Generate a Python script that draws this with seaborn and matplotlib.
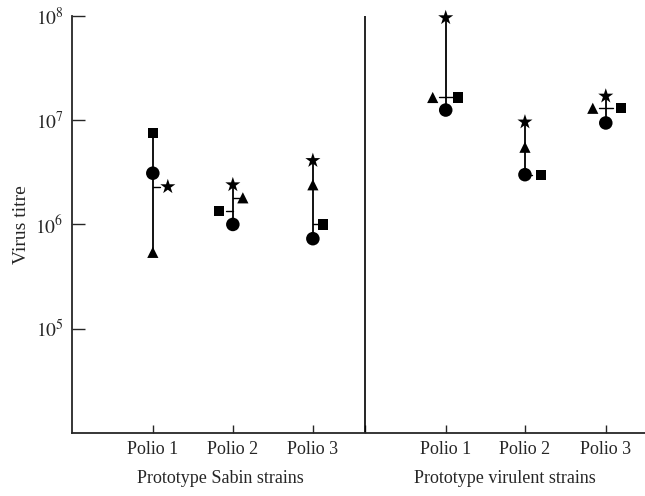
import numpy as np
import pandas as pd
import matplotlib
matplotlib.use("Agg")
import matplotlib.pyplot as plt
import seaborn as sns

# values (virus titre), order: Sabin P1-3, virulent P1-3
strains = ["Polio 1", "Polio 2", "Polio 3"]
groups = ["Prototype Sabin strains", "Prototype virulent strains"]
circle_titre = [3.1e6, 1.0e6, 7.3e5, 1.25e7, 3.0e6, 9.4e6]
square_titre = [7.5e6, 1.35e6, 1.0e6, 1.65e7, 3.0e6, 1.3e7]
triangle_titre = [5.4e5, 1.8e6, 2.4e6, 1.65e7, 5.5e6, 1.3e7]
star_titre = [2.3e6, 2.4e6, 4.1e6, 9.6e7, 9.6e6, 1.7e7]
ytick_values = [1e5, 1e6, 1e7, 1e8]
ytick_labels = ["$10^5$", "$10^6$", "$10^7$", "$10^8$"]

# layout: x position of each strain and the small sideways shifts of markers
base_x = [1.0, 2.0, 3.0, 4.66, 5.65, 6.66]
divider_x = 3.65
px = 1 / 80.0
shift = {
    "circle": [0, 0, 0, 0, 0, 0],
    "square": [0, -14, 10, 12, 16, 15],
    "triangle": [0, 10, 0, -13, 0, -13],
    "star": [15, 0, 0, 0, 0, 0],
}

titres = {"circle": circle_titre, "square": square_titre,
          "triangle": triangle_titre, "star": star_titre}
rows = []
for kind, vals in titres.items():
    for i, v in enumerate(vals):
        rows.append({"kind": kind, "x": base_x[i] + shift[kind][i] * px, "titre": v,
                     "line_x": base_x[i], "dx": shift[kind][i]})
df = pd.DataFrame(rows)

sns.set_style("ticks")
plt.rcParams["font.family"] = ["Liberation Serif", "DejaVu Serif"]
plt.rcParams["mathtext.fontset"] = "stix"

fig = plt.figure(figsize=(6.45, 4.96), dpi=100)
ax = fig.add_axes([0.1116, 0.127, 0.8884, 0.841])

# vertical range lines
for i in range(6):
    vals = [titres[k][i] for k in titres]
    ax.plot([base_x[i], base_x[i]], [min(vals), max(vals)], color="black", lw=1.3,
            zorder=1, clip_on=False)

# little connectors to markers set off to the side
for _, r in df[df["dx"] != 0].iterrows():
    side = np.sign(r["dx"])
    ax.plot([r["line_x"], r["line_x"] + side * 7 * px], [r["titre"], r["titre"]],
            color="black", lw=1.0, zorder=1)

sns.scatterplot(data=df, x="x", y="titre", style="kind", size="kind",
                markers={"circle": "o", "square": "s", "triangle": "^", "star": "*"},
                sizes={"circle": 95, "square": 55, "triangle": 65, "star": 130},
                color="black", linewidth=0, legend=False, ax=ax, zorder=3,
                clip_on=False)

ax.axvline(divider_x, color="black", lw=1.2)

ax.set_yscale("log")
ax.set_ylim(1e4, 1e8)
ax.set_xlim(-0.01, 7.15)
ax.set_yticks(ytick_values)
ax.set_yticklabels(ytick_labels, fontsize=14)
ax.yaxis.set_minor_locator(matplotlib.ticker.NullLocator())
ax.set_xticks(base_x[:3] + [divider_x] + base_x[3:])
ax.set_xticklabels(strains + [""] + strains, fontsize=13)
ax.tick_params(axis="y", direction="in", length=9, width=1, pad=6)
ax.tick_params(axis="x", direction="in", length=6, width=1, pad=6)
sns.despine(ax=ax)
ax.spines["left"].set_linewidth(1.3)
ax.spines["bottom"].set_linewidth(1.3)

ax.set_xlabel("")
ax.set_ylabel("Virus titre", fontsize=14, labelpad=4)
ax.text(1.84, -0.11, groups[0], transform=ax.get_xaxis_transform(),
        ha="center", va="center", fontsize=13)
ax.text(5.4, -0.11, groups[1], transform=ax.get_xaxis_transform(),
        ha="center", va="center", fontsize=13)

fig.savefig("out.png", dpi=100)
